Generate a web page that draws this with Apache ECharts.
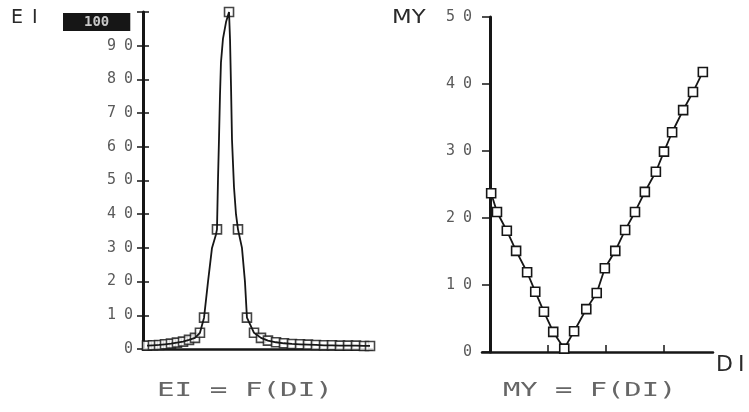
<!DOCTYPE html>
<html>
<head>
<meta charset="utf-8">
<script src="https://cdn.jsdelivr.net/npm/echarts@6/dist/echarts.min.js"></script>
<style>
  html, body { margin: 0; padding: 0; background: #fff; }
  #chart { width: 749px; height: 412px; }
</style>
</head>
<body>
<div id="chart"></div>
<script>
// EI = F(DI): sampled points (drawn with square markers)
const eiMarkerDI    = [0.40, 1.00, 1.61, 2.21, 2.81, 3.41, 4.02, 4.62, 5.22, 5.72, 6.13, 7.43, 8.64, 9.54, 10.44, 11.15, 11.85, 12.55, 13.36, 14.16, 14.96, 15.77, 16.57, 17.37, 18.18, 18.98, 19.78, 20.59, 21.39, 22.20, 22.80];
const eiMarkerValue = [1.0, 1.1, 1.2, 1.4, 1.6, 1.9, 2.2, 2.7, 3.3, 4.8, 9.3, 35.5, 100, 35.5, 9.3, 4.8, 3.3, 2.5, 2.0, 1.7, 1.5, 1.4, 1.3, 1.2, 1.1, 1.1, 1.0, 1.0, 1.0, 0.9, 0.9];
// EI = F(DI): extra points of the traced resonance curve between the markers
const eiCurveDI     = [6.53, 6.93, 7.33, 7.53, 7.63, 7.73, 7.83, 8.03, 8.34, 8.74, 8.84, 8.94, 9.14, 9.34, 9.94, 10.24];
const eiCurveValue  = [20, 30, 34, 50, 62, 75, 85, 92, 97, 92, 78, 62, 48, 40, 30, 20];

// MY = F(DI)
const myDI    = [0.02, 0.12, 0.29, 0.45, 0.64, 0.78, 0.93, 1.09, 1.28, 1.45, 1.66, 1.84, 1.98, 2.16, 2.33, 2.50, 2.67, 2.86, 3.00, 3.14, 3.33, 3.50, 3.67];
const myValue = [23.7, 20.9, 18.1, 15.1, 11.9, 9.0, 6.0, 3.0, 0.5, 3.1, 6.4, 8.8, 12.5, 15.1, 18.2, 20.9, 23.9, 26.9, 29.9, 32.8, 36.1, 38.8, 41.8];

// Axis ticks
const eiTickStep = 10;
const eiMax = 100;
const myTickStep = 10;
const myMax = 50;
const myDITicks = [0, 1, 2, 3];

const INK = '#161616';
const LABEL = '#5a5a5a';
const MONO = '"DejaVu Sans Mono", monospace';

const pairs = (xs, ys) => xs.map((x, i) => [x, ys[i]]);
const eiLine = pairs(eiMarkerDI, eiMarkerValue)
  .concat(pairs(eiCurveDI, eiCurveValue))
  .sort((a, b) => a[0] - b[0]);

const spacedDigits = v => String(v).split('').map(c => '{d|' + c + '}').join('');
const labelRich = { d: { padding: [0, 4, 0, 4], fontFamily: MONO, fontSize: 15, color: LABEL } };

// Each value axis is drawn twice (outer and inner ticks) so the ticks form small crosses
function valueAxis(grid, max, step, withLabels, hideTop) {
  return {
    type: 'value', gridIndex: grid, position: 'left', min: 0, max: max, interval: step,
    axisLine: { show: withLabels, lineStyle: { color: INK, width: 3 } },
    axisTick: { show: true, inside: !withLabels, length: 6, lineStyle: { color: INK, width: 1.5 } },
    axisLabel: withLabels ? {
      margin: 6,
      formatter: v => (hideTop && v === max) ? '' : spacedDigits(v),
      rich: labelRich
    } : { show: false },
    splitLine: { show: false }
  };
}

const markerStyle = { color: '#fff', borderColor: INK, borderWidth: 1.6 };

const chart = echarts.init(document.getElementById('chart'), null, { renderer: 'canvas' });
chart.setOption({
  animation: false,
  backgroundColor: '#fff',
  grid: [
    { left: 143, top: 12, width: 229, height: 337 },
    { left: 482, top: 17, width: 231, height: 335 }
  ],
  xAxis: [
    {
      type: 'value', gridIndex: 0, min: 0, max: 23,
      axisLine: { lineStyle: { color: INK, width: 2.5 } },
      axisTick: { show: false }, axisLabel: { show: false }, splitLine: { show: false }
    },
    {
      type: 'value', gridIndex: 1, min: -0.138, max: 3.845,
      axisLine: { lineStyle: { color: INK, width: 2.5 } },
      axisTick: { show: true, inside: true, length: 7, customValues: myDITicks, lineStyle: { color: INK, width: 1.5 } },
      axisLabel: { show: false }, splitLine: { show: false }
    }
  ],
  yAxis: [
    valueAxis(0, eiMax, eiTickStep, true, true),
    valueAxis(0, eiMax, eiTickStep, false, false),
    valueAxis(1, myMax, myTickStep, true, false),
    valueAxis(1, myMax, myTickStep, false, false)
  ],
  series: [
    {
      type: 'line', xAxisIndex: 0, yAxisIndex: 0, data: eiLine,
      showSymbol: false, lineStyle: { color: INK, width: 1.8 }
    },
    {
      type: 'scatter', xAxisIndex: 0, yAxisIndex: 0, data: pairs(eiMarkerDI, eiMarkerValue),
      symbol: 'rect', symbolSize: 9, itemStyle: markerStyle
    },
    {
      type: 'line', xAxisIndex: 1, yAxisIndex: 2, data: pairs(myDI, myValue),
      symbol: 'rect', symbolSize: 9, showSymbol: true, itemStyle: markerStyle,
      lineStyle: { color: INK, width: 1.8 }
    }
  ],
  graphic: [
    {
      type: 'text', x: 11, y: 9,
      style: {
        text: '{a|E}{b|I}', rich: {
          a: { fontFamily: 'DejaVu Sans', fontSize: 19, fill: '#2a2a2a', padding: [0, 9, 0, 0] },
          b: { fontFamily: 'DejaVu Sans', fontSize: 19, fill: '#2a2a2a' }
        }
      }
    },
    {
      type: 'text', x: 63, y: 13,
      style: {
        text: String(eiMax), fontFamily: MONO, fontSize: 14, fontWeight: 'bold',
        fill: '#c8c8c8', backgroundColor: INK, padding: [2, 21, 2, 21]
      }
    },
    {
      type: 'text', x: 392, y: 9,
      style: { text: 'MY', fontFamily: 'DejaVu Sans', fontSize: 19, fill: '#2a2a2a' },
      scaleX: 1.2
    },
    {
      type: 'text', x: 716, y: 354,
      style: {
        text: '{a|D}{b|I}', rich: {
          a: { fontFamily: 'DejaVu Sans', fontSize: 22, fill: '#2a2a2a', padding: [0, 5, 0, 0] },
          b: { fontFamily: 'DejaVu Sans', fontSize: 22, fill: '#2a2a2a' }
        }
      }
    },
    {
      type: 'text', x: 157, y: 381, scaleX: 1.46,
      style: { text: 'EI = F(DI)', fontFamily: MONO, fontSize: 20, fill: '#666' }
    },
    {
      type: 'text', x: 503, y: 381, scaleX: 1.44,
      style: { text: 'MY = F(DI)', fontFamily: MONO, fontSize: 20, fill: '#666' }
    }
  ]
});
</script>
</body>
</html>
